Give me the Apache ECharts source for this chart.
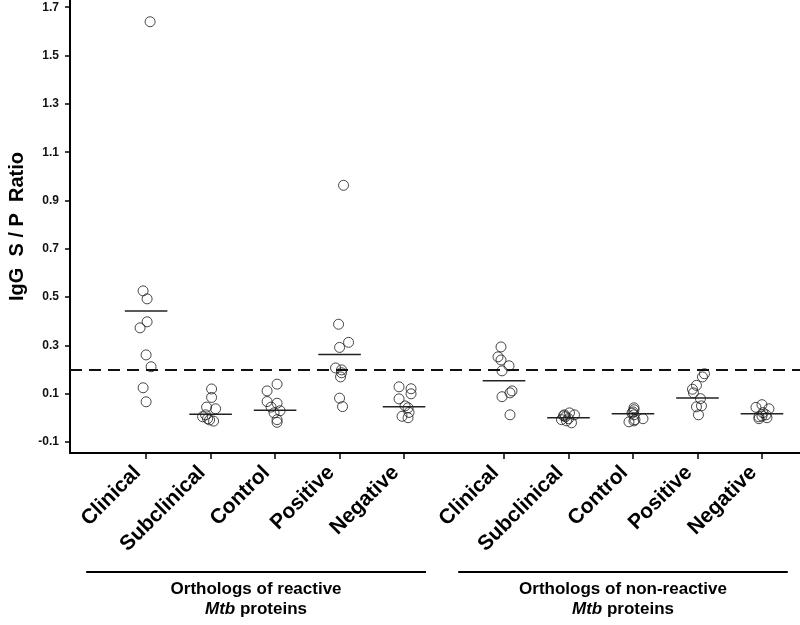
<!DOCTYPE html>
<html>
<head>
<meta charset="utf-8">
<script src="https://cdn.jsdelivr.net/npm/echarts@6/dist/echarts.min.js"></script>
<style>
  html, body { margin: 0; padding: 0; background: #fff; }
  #chart { width: 800px; height: 625px; }
</style>
</head>
<body>
<div id="chart"></div>
<script>
// categories, two groups of five
const categories = ['Clinical', 'Subclinical', 'Control', 'Positive', 'Negative',
                    'Clinical', 'Subclinical', 'Control', 'Positive', 'Negative']
const groupNames = ['Orthologs of reactive', 'Orthologs of non-reactive']

// IgG S/P ratio per animal
const clinicalR    = [1.64, 0.526, 0.493, 0.398, 0.373, 0.261, 0.212, 0.125, 0.067]
const subclinicalR = [0.12, 0.085, 0.045, 0.038, 0.013, 0.005, -0.003, -0.008, -0.013]
const controlR     = [0.14, 0.112, 0.068, 0.061, 0.045, 0.030, 0.021, -0.007, -0.018]
const positiveR    = [0.963, 0.388, 0.313, 0.292, 0.207, 0.199, 0.187, 0.170, 0.082, 0.047]
const negativeR    = [0.129, 0.121, 0.100, 0.079, 0.050, 0.042, 0.023, 0.007, 0.001]
const clinicalN    = [0.294, 0.253, 0.240, 0.216, 0.195, 0.112, 0.104, 0.088, 0.013]
const subclinicalN = [0.021, 0.013, 0.013, 0.009, 0.005, -0.003, -0.007, -0.012, -0.020]
const controlN     = [0.042, 0.034, 0.025, 0.020, 0.013, -0.003, -0.007, -0.012, -0.016]
const positiveN    = [0.183, 0.170, 0.135, 0.119, 0.104, 0.080, 0.050, 0.046, 0.013]
const negativeN    = [0.055, 0.044, 0.038, 0.022, 0.013, 0.008, 0.005, 0.001, -0.003]

// horizontal scatter of each point as seen in the picture (px at 64.5 px per category)
const jitterPx = [
  [4, -3, 1, 1, -6, 0, 5, -3, 0],
  [1, 1, -4, 5, -5, -8, -3, -1, 3],
  [2, -8, -8, 2, -4, 5, -1, 2, 2],
  [4, -1, 9, 0, -4, 2, 2, 1, 0, 3],
  [-5, 7, 7, -5, 1, 4, 5, -2, 4],
  [-3, -6, -3, 5, -2, 8, 6, -2, 6],
  [1, -4, 6, -5, -3, 0, -7, -2, 3],
  [1, 1, 0, -1, 1, 10, 2, 1, -4],
  [7, 5, -1, -5, -4, 3, 4, -1, 1],
  [0, -6, 7, 1, 4, 0, -3, 5, -3]
]

// group mean bars and cut-off line
const means = [0.443, 0.015, 0.032, 0.263, 0.046, 0.154, 0.001, 0.017, 0.083, 0.017]
const cutoff = 0.195
const yTicks = [-0.1, 0.1, 0.3, 0.5, 0.7, 0.9, 1.1, 1.3, 1.5, 1.7]

const groups = [clinicalR, subclinicalR, controlR, positiveR, negativeR,
                clinicalN, subclinicalN, controlN, positiveN, negativeN]

// x position of each category (extra gap between the two groups)
const GAP = 0.55
const catX = categories.map((c, i) => i + (i >= 5 ? GAP : 0))

const points = []
groups.forEach((vals, gi) => {
  vals.forEach((v, j) => {
    points.push([catX[gi] + jitterPx[gi][j] / 64.5, v])
  })
})
const meanData = means.map((m, i) => [catX[i], m])

const chart = echarts.init(document.getElementById('chart'))
const font = 'Arial, "Liberation Sans", sans-serif'

chart.setOption({
  animation: false,
  grid: { left: 70, right: 0, top: 0, bottom: 172, outerBoundsMode: 'none' },
  xAxis: {
    type: 'value',
    min: -1.18,
    max: 10.14,
    splitLine: { show: false },
    axisLine: { onZero: false, lineStyle: { color: '#000', width: 2 } },
    axisTick: { customValues: catX, length: 6, lineStyle: { color: '#000', width: 1.5 } },
    axisLabel: {
      customValues: catX,
      rotate: 45,
      margin: 8,
      padding: [0, 12, 0, 0],
      color: '#000',
      fontWeight: 'bold',
      fontSize: 21,
      fontFamily: font,
      formatter: (v) => {
        const i = catX.findIndex(x => Math.abs(x - v) < 0.01)
        return i >= 0 ? categories[i] : ''
      }
    }
  },
  yAxis: {
    type: 'value',
    min: -0.145,
    max: 1.73,
    name: 'IgG  S / P  Ratio',
    nameLocation: 'middle',
    nameGap: 38,
    nameTextStyle: { fontSize: 20, fontWeight: 'bold', color: '#000', fontFamily: font },
    splitLine: { show: false },
    axisLine: { show: true, onZero: false, lineStyle: { color: '#000', width: 2 } },
    axisTick: { show: true, customValues: yTicks, length: 5, lineStyle: { color: '#000', width: 1.5 } },
    axisLabel: {
      customValues: yTicks,
      margin: 11,
      color: '#111',
      fontWeight: 'bold',
      fontSize: 12,
      fontFamily: font,
      formatter: (v) => v.toFixed(1)
    }
  },
  series: [
    {
      type: 'scatter',
      data: points,
      symbol: 'circle',
      symbolSize: 10,
      itemStyle: { color: 'rgba(0,0,0,0)', borderColor: '#1a1a1a', borderWidth: 1 },
      markLine: {
        silent: true,
        symbol: ['none', 'none'],
        label: { show: false },
        lineStyle: { color: '#111', width: 2, type: [12, 7] },
        data: [{ yAxis: cutoff }]
      }
    },
    {
      type: 'custom',
      data: meanData,
      renderItem: (params, api) => {
        const x = api.value(0)
        const y = api.value(1)
        const p1 = api.coord([x - 0.33, y])
        const p2 = api.coord([x + 0.33, y])
        return {
          type: 'line',
          shape: { x1: p1[0], y1: p1[1], x2: p2[0], y2: p2[1] },
          style: { stroke: '#222', lineWidth: 1.5 }
        }
      }
    }
  ]
})

// group brackets under the axis labels, placed from the axis scale
const brackets = []
;[[0, 4], [5, 9]].forEach(([a, b], gi) => {
  const left = chart.convertToPixel({ gridIndex: 0 }, [catX[a] - (gi === 0 ? 0.93 : 0.71), 0])[0]
  const right = chart.convertToPixel({ gridIndex: 0 }, [catX[b] + (gi === 0 ? 0.34 : 0.4), 0])[0]
  const mid = (left + right) / 2
  brackets.push({
    type: 'line',
    shape: { x1: left, y1: 572, x2: right, y2: 572 },
    style: { stroke: '#000', lineWidth: 2 }
  })
  brackets.push({
    type: 'text',
    x: mid, y: 589,
    style: {
      text: groupNames[gi],
      align: 'center', verticalAlign: 'middle',
      font: 'bold 17px Arial, sans-serif',
      fill: '#000'
    }
  })
  brackets.push({
    type: 'text',
    x: mid, y: 609,
    style: {
      text: '{i|Mtb} proteins',
      align: 'center', verticalAlign: 'middle',
      font: 'bold 17px Arial, sans-serif',
      fill: '#000',
      rich: {
        i: { fontStyle: 'italic', fontWeight: 'bold', fontSize: 17, fontFamily: 'Arial, sans-serif' }
      }
    }
  })
})
chart.setOption({ graphic: brackets })
</script>
</body>
</html>
